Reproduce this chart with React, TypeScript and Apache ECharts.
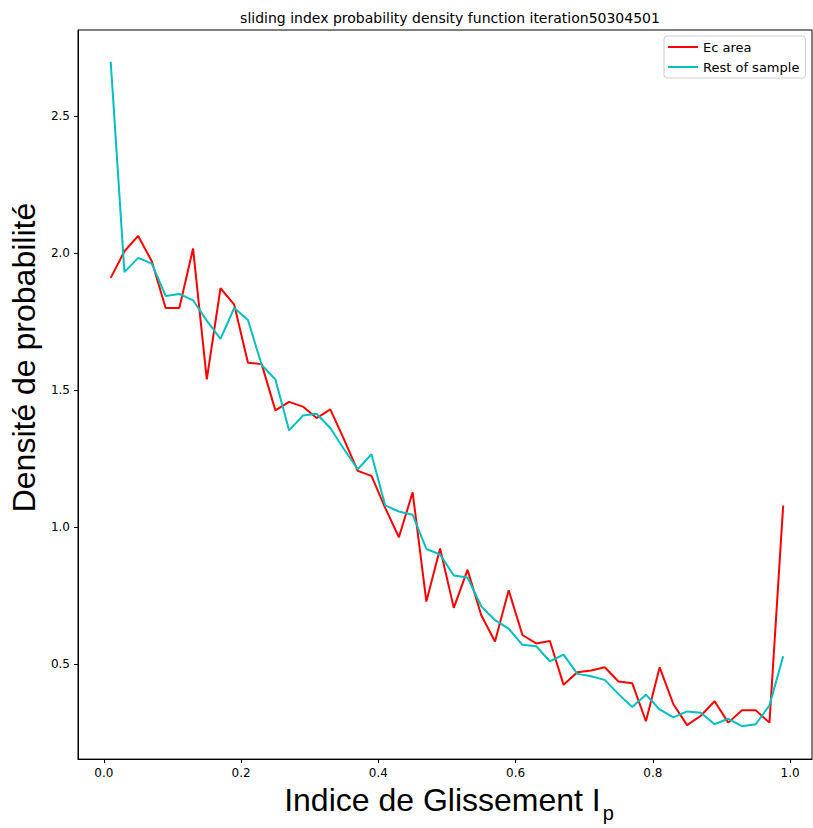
import React, { useEffect, useRef } from "react";
import * as echarts from "echarts";

const xValues = [
  0.01, 0.03, 0.05, 0.07, 0.09, 0.11, 0.13, 0.15, 0.17, 0.19,
  0.21, 0.23, 0.25, 0.27, 0.29, 0.31, 0.33, 0.35, 0.37, 0.39,
  0.41, 0.43, 0.45, 0.47, 0.49, 0.51, 0.53, 0.55, 0.57, 0.59,
  0.61, 0.63, 0.65, 0.67, 0.69, 0.71, 0.73, 0.75, 0.77, 0.79,
  0.81, 0.83, 0.85, 0.87, 0.89, 0.91, 0.93, 0.95, 0.97, 0.99,
];

const ecArea = [
  1.91, 2.007, 2.063, 1.97, 1.80, 1.80, 2.017, 1.539, 1.872, 1.812,
  1.60, 1.595, 1.426, 1.457, 1.44, 1.398, 1.43, 1.32, 1.205, 1.187,
  1.07, 0.963, 1.127, 0.728, 0.922, 0.705, 0.844, 0.678, 0.582, 0.769,
  0.606, 0.575, 0.584, 0.424, 0.47, 0.476, 0.488, 0.436, 0.43, 0.291,
  0.488, 0.353, 0.277, 0.311, 0.364, 0.286, 0.331, 0.331, 0.286, 1.079,
];

const restOfSample = [
  2.699, 1.931, 1.983, 1.962, 1.844, 1.851, 1.828, 1.754, 1.687, 1.80,
  1.756, 1.592, 1.539, 1.353, 1.407, 1.414, 1.362, 1.284, 1.211, 1.266,
  1.079, 1.057, 1.045, 0.92, 0.90, 0.823, 0.816, 0.711, 0.66, 0.629,
  0.57, 0.565, 0.51, 0.534, 0.464, 0.455, 0.442, 0.39, 0.343, 0.388,
  0.334, 0.305, 0.327, 0.322, 0.28, 0.30, 0.273, 0.28, 0.349, 0.528,
];

const xTicks = [0, 0.2, 0.4, 0.6, 0.8, 1.0];
const yTicks = [0.5, 1.0, 1.5, 2.0, 2.5];

const titleText = "sliding index probability density function iteration50304501";
const seriesNames = ["Ec area", "Rest of sample"];
const seriesColors = ["#ff0000", "#00bfbf"];

export default function App() {
  const ref = useRef<HTMLDivElement>(null);

  useEffect(() => {
    if (!ref.current) return;
    const chart = echarts.init(ref.current, null, { renderer: "svg" });
    const tickFont = "DejaVu Sans";
    const option: any = {
      animation: false,
      backgroundColor: "#ffffff",
      title: {
        text: titleText,
        left: 445,
        textAlign: "center",
        top: 6,
        textStyle: {
          fontFamily: tickFont,
          fontSize: 14,
          fontWeight: "normal",
          color: "#000",
        },
      },
      legend: {
        data: seriesNames,
        orient: "vertical",
        left: 664,
        top: 36,
        padding: [4, 6, 4, 4],
        itemGap: 6,
        itemWidth: 30,
        itemHeight: 2,
        icon: "rect",
        borderColor: "#cccccc",
        borderWidth: 1,
        borderRadius: 3,
        backgroundColor: "#ffffff",
        textStyle: {
          fontFamily: tickFont,
          fontSize: 13,
          lineHeight: 14,
          color: "#000",
        },
      },
      grid: {
        left: 75,
        top: 30,
        width: 737,
        height: 736,
        show: true,
        borderColor: "#000",
        borderWidth: 1,
        backgroundColor: "transparent",
        containLabel: false,
      },
      xAxis: {
        type: "value",
        min: -0.0377,
        max: 1.032,
        name: "{a|Indice de Glissement I}{b|p}",
        nameLocation: "middle",
        nameGap: 24,
        nameTextStyle: {
          padding: [0, 0, 0, 8],
          rich: {
            a: {
              fontFamily: "Liberation Sans",
              fontSize: 32,
              color: "#000",
              verticalAlign: "top",
              lineHeight: 32,
            },
            b: {
              fontFamily: "Liberation Sans",
              fontSize: 20,
              color: "#000",
              verticalAlign: "top",
              lineHeight: 20,
              padding: [19, 0, 0, 2],
            },
          },
        },
        axisLine: { show: true, onZero: false, lineStyle: { color: "#000", width: 1 } },
        axisTick: {
          show: true,
          length: 4,
          customValues: xTicks,
          lineStyle: { color: "#000" },
        },
        axisLabel: {
          customValues: xTicks,
          formatter: (v: number) => v.toFixed(1),
          fontFamily: tickFont,
          fontSize: 12,
          color: "#000",
          margin: 8,
        },
        splitLine: { show: false },
      },
      yAxis: {
        type: "value",
        min: 0.1528,
        max: 2.815,
        name: "Densité de probabilité",
        nameLocation: "middle",
        nameGap: 34,
        nameRotate: 90,
        nameTextStyle: {
          fontFamily: "Liberation Sans",
          fontSize: 32,
          color: "#000",
          padding: [0, 0, 0, 74],
        },
        axisLine: { show: true, onZero: false, lineStyle: { color: "#000", width: 1 } },
        axisTick: {
          show: true,
          length: 4,
          customValues: yTicks,
          lineStyle: { color: "#000" },
        },
        axisLabel: {
          customValues: yTicks,
          formatter: (v: number) => v.toFixed(1),
          fontFamily: tickFont,
          fontSize: 12,
          color: "#000",
          margin: 8,
        },
        splitLine: { show: false },
      },
      series: [
        {
          name: seriesNames[0],
          type: "line",
          data: xValues.map((x, i) => [x, ecArea[i]]),
          showSymbol: false,
          symbol: "none",
          lineStyle: { color: seriesColors[0], width: 2 },
          itemStyle: { color: seriesColors[0] },
          z: 2,
        },
        {
          name: seriesNames[1],
          type: "line",
          data: xValues.map((x, i) => [x, restOfSample[i]]),
          showSymbol: false,
          symbol: "none",
          lineStyle: { color: seriesColors[1], width: 2 },
          itemStyle: { color: seriesColors[1] },
          z: 3,
        },
      ],
    };
    chart.setOption(option);
    return () => chart.dispose();
  }, []);

  return (
    <div
      ref={ref}
      style={{ position: "fixed", left: 0, top: 0, width: 813, height: 828 }}
    />
  );
}
